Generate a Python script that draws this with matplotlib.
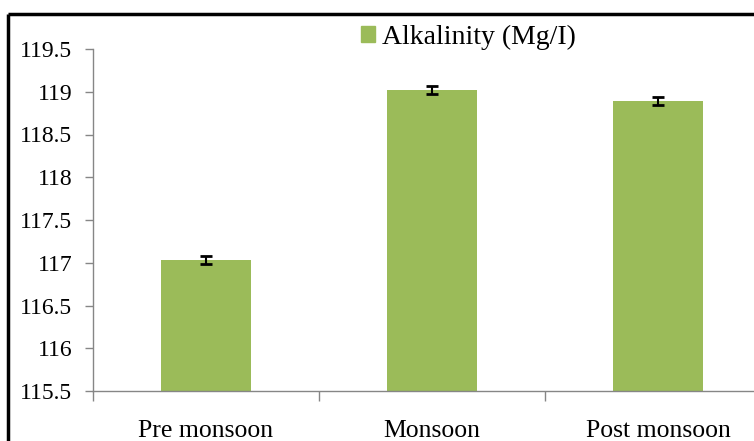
import matplotlib
matplotlib.use('Agg')
import matplotlib.pyplot as plt
from matplotlib.lines import Line2D
from matplotlib.patches import Patch

# data
seasons = ['Pre monsoon', 'Monsoon', 'Post monsoon']
alkalinity = [117.03, 119.02, 118.89]
alkalinity_err = [0.05, 0.05, 0.05]
y_ticks = [115.5, 116, 116.5, 117, 117.5, 118, 118.5, 119, 119.5]
y_labels = ['115.5', '116', '116.5', '117', '117.5', '118', '118.5', '119', '119.5']

plt.rcParams['font.family'] = ['Liberation Serif', 'DejaVu Serif']

W, H = 754, 441
fig = plt.figure(figsize=(W / 100, H / 100), dpi=100)
ax = fig.add_axes([93 / W, 1 - 391 / H, (771 - 93) / W, (391 - 49) / H])

x = range(len(seasons))
ax.bar(x, [v - 115.5 for v in alkalinity], bottom=115.5, width=0.4, color='#9BBB59',
       yerr=alkalinity_err, error_kw=dict(ecolor='black', elinewidth=1.5, capsize=4, capthick=2))

ax.set_ylim(115.5, 119.5)
ax.set_xlim(-0.5, 2.5)
ax.set_yticks(y_ticks)
ax.set_yticklabels(y_labels, fontsize=17)
ax.set_xticks(list(x))
ax.set_xticklabels(seasons, fontsize=18.5)
ax.tick_params(axis='x', length=0, pad=21)
ax.tick_params(axis='y', length=6, color='#868686', width=1, pad=9)
ax.set_xticks([-0.5, 0.5, 1.5], minor=True)
ax.tick_params(axis='x', which='minor', length=7, color='#868686', width=1)

for side in ['top', 'right']:
    ax.spines[side].set_visible(False)
for side in ['left', 'bottom']:
    ax.spines[side].set_color('#868686')
    ax.spines[side].set_linewidth(1)

# legend at the top
ax.legend(handles=[Patch(color='#9BBB59', label='Alkalinity (Mg/I)')], loc='center left',
          bbox_to_anchor=(361 / W, 1 - 37 / H), bbox_transform=fig.transFigure,
          frameon=False, fontsize=20, handlelength=0.5, handleheight=0.5,
          handletextpad=0.25, borderaxespad=0, borderpad=0)

# outer chart border (only left and top visible in the crop)
fig.add_artist(Line2D([8 / W, 8 / W], [-0.05, 1 - 14 / H], color='black', lw=2.5,
                      transform=fig.transFigure, solid_capstyle='butt'))
fig.add_artist(Line2D([8 / W, 1.05], [1 - 14 / H, 1 - 14 / H], color='black', lw=2.5,
                      transform=fig.transFigure, solid_capstyle='butt'))

fig.savefig('out.png', dpi=100)
